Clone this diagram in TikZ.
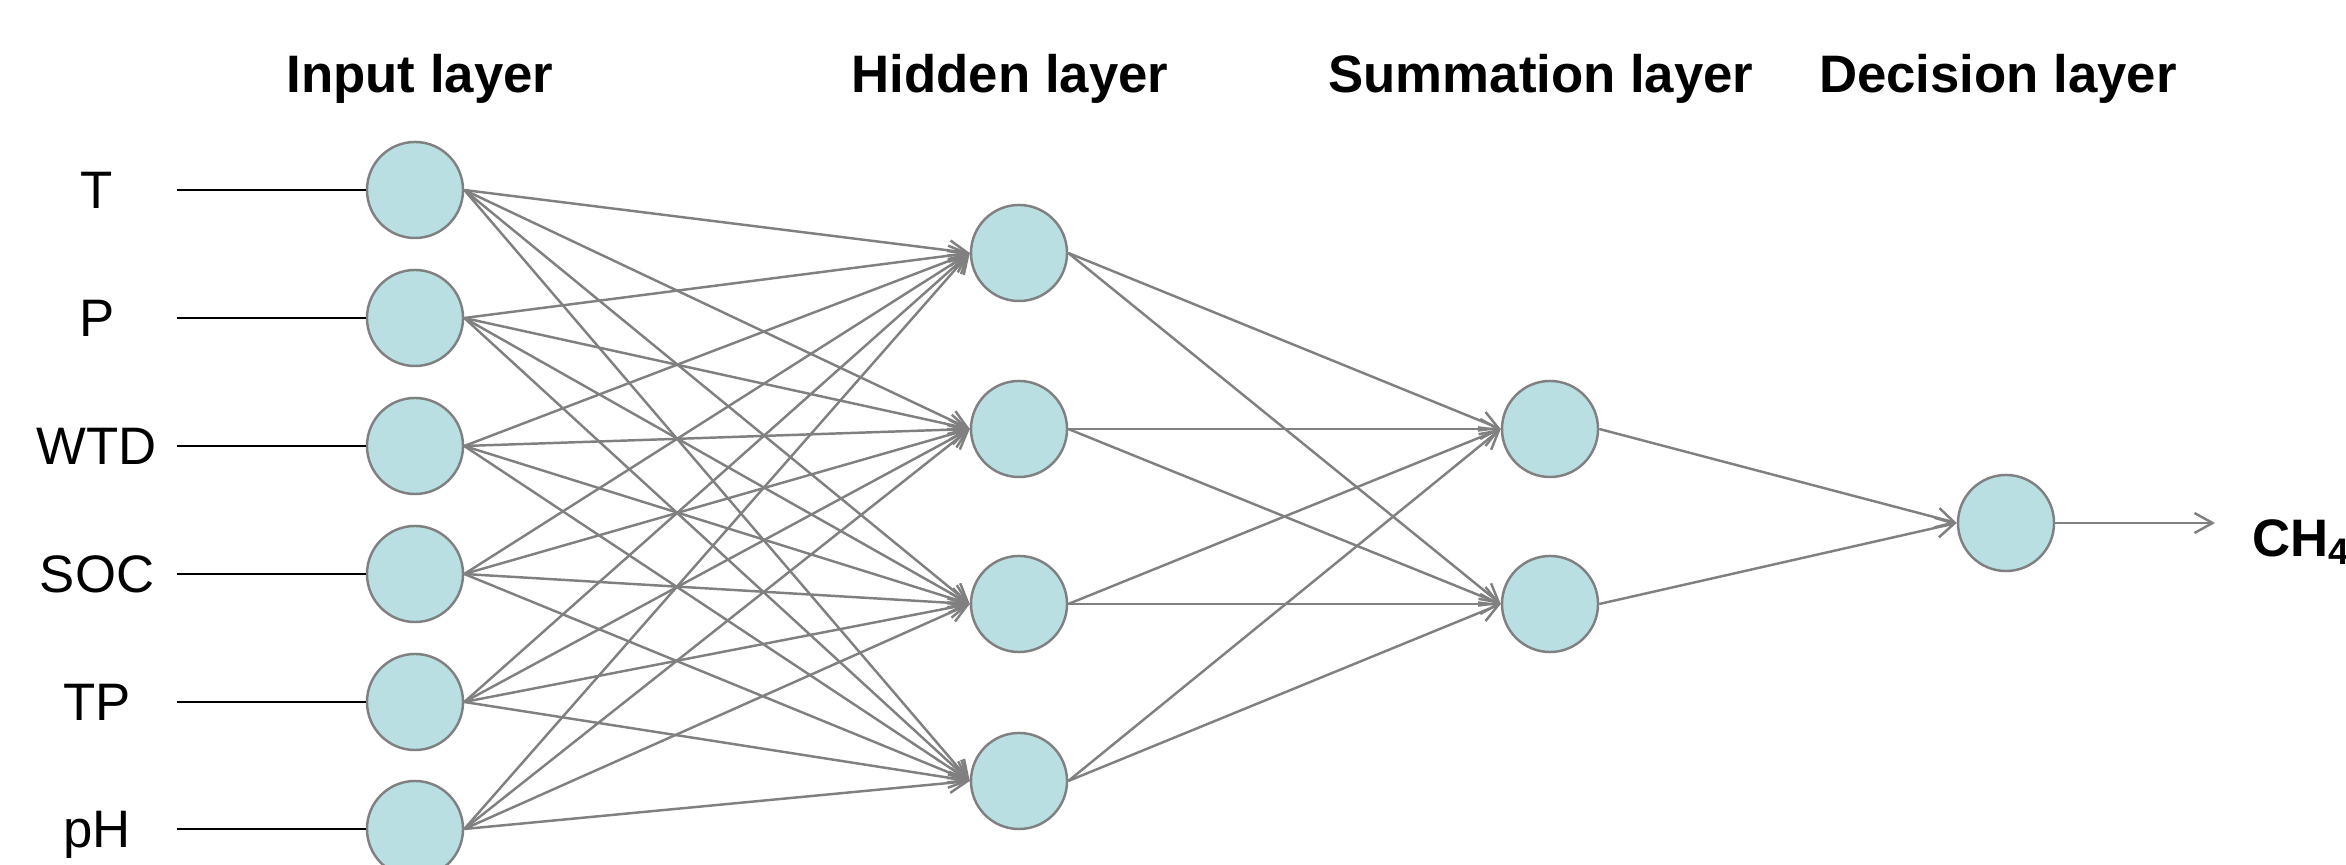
\documentclass[tikz,border=0pt]{standalone}
\usepackage{fontspec}
\setmainfont{Liberation Sans}
\usetikzlibrary{arrows.meta}
\definecolor{cellfill}{HTML}{B9DFE3}
\definecolor{linkgray}{HTML}{808080}
\begin{document}
\begin{tikzpicture}[
    x=0.01cm, y=-0.01cm,
    neuron/.style={circle, draw=linkgray, fill=cellfill, line width=0.7pt, minimum size=0.96cm, inner sep=0pt},
    layertitle/.style={font=\fontsize{15}{18}\selectfont\bfseries, anchor=base},
    feature/.style={font=\fontsize{15}{18}\selectfont, anchor=base},
    link/.style={draw=linkgray, line width=0.7pt, -{Straight Barb[length=1.8mm,width=2mm]}},
    feed/.style={draw=black, line width=0.8pt}
]
\useasboundingbox (0,0) rectangle (2346,865);
\node[layertitle] (tin) at (420,93) {Input layer};
\node[layertitle] (thid) at (1010,93) {Hidden layer};
\node[layertitle] (tsum) at (1541,93) {Summation layer};
\node[layertitle] (tdec) at (1998,93) {Decision layer};
\foreach \name/\y [count=\i] in {T/190,P/318,WTD/446,SOC/574,TP/702,pH/829} {
    \node[neuron] (in\i) at (415,\y) {};
    \node[feature] (lab\i) at (97,\y+19) {\name};
    \coordinate (src\i) at (177,\y);
    \draw[feed] (src\i) -- (in\i);
}
\foreach \y [count=\j] in {253,429,604,781}
    \node[neuron] (hid\j) at (1019,\y) {};
\foreach \y [count=\k] in {429,604}
    \node[neuron] (sum\k) at (1550,\y) {};
\node[neuron] (dec) at (2006,523) {};
\coordinate (out) at (2215,523);
\node[layertitle, anchor=base west, inner sep=0pt] (ch4) at (2252,557) {CH\textsubscript{4}};
\foreach \i in {1,...,6}
    \foreach \j in {1,...,4}
        \draw[link] (in\i.east) -- (hid\j.west);
\foreach \j in {1,...,4}
    \foreach \k in {1,2}
        \draw[link] (hid\j.east) -- (sum\k.west);
\foreach \k in {1,2}
    \draw[link] (sum\k.east) -- (dec.west);
\draw[link] (dec) -- (out);
\end{tikzpicture}
\end{document}
